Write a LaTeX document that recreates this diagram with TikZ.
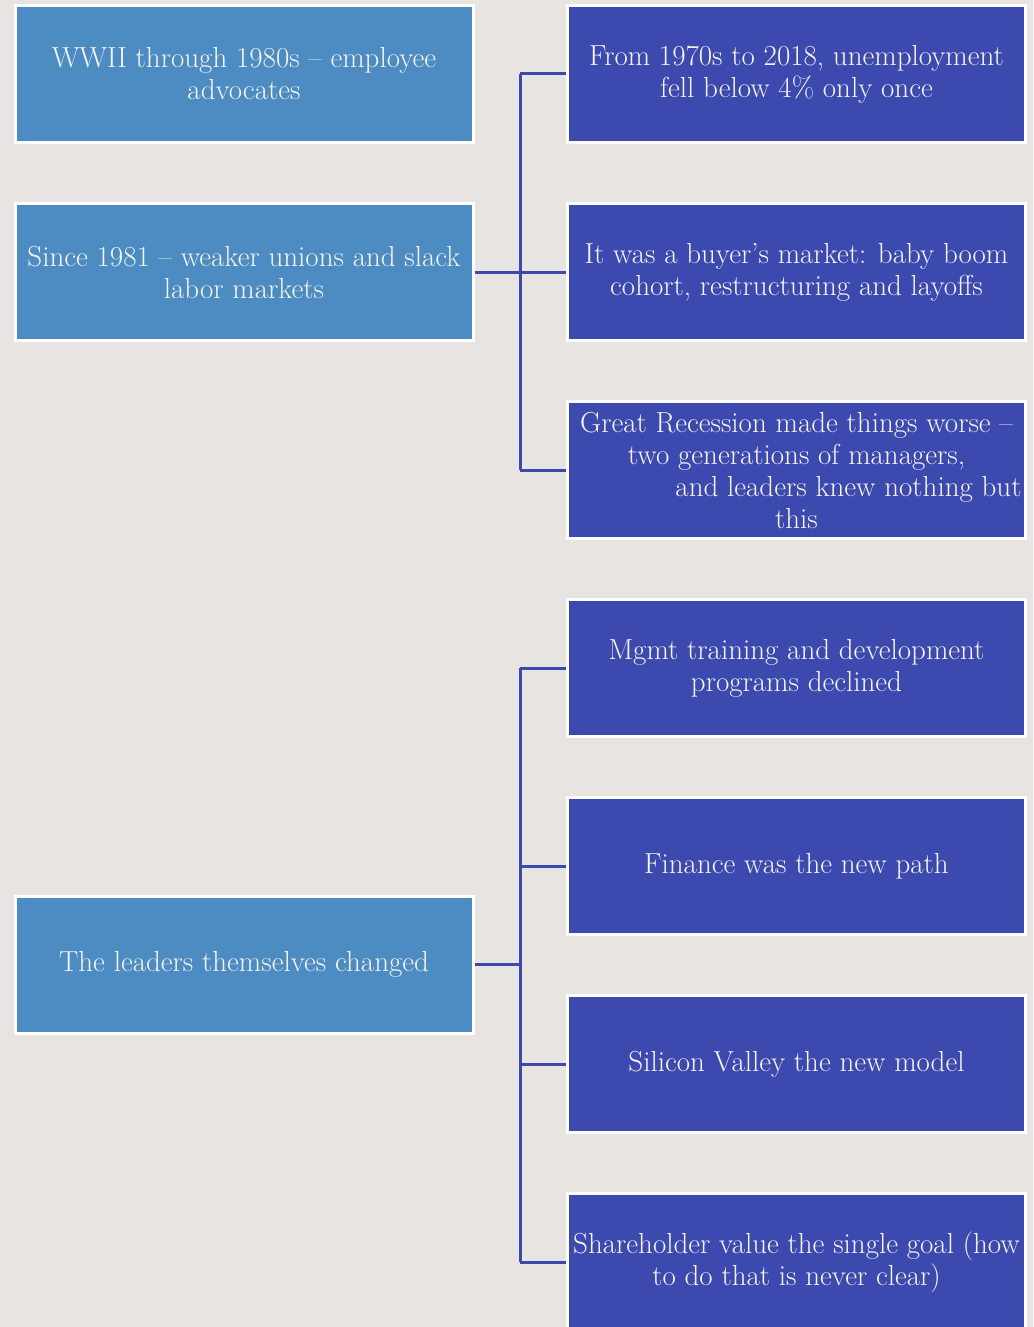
\documentclass[tikz,border=0pt]{standalone}
\usepackage{fontspec}
\usepackage{xcolor}
\usetikzlibrary{positioning}
\definecolor{bgcol}{HTML}{E8E4E1}
\definecolor{leftblue}{HTML}{4C8CC3}
\definecolor{rightblue}{HTML}{3C4AB0}
\definecolor{boxtext}{HTML}{F6F4EE}

\begin{document}
\begin{tikzpicture}[x=1pt,y=-1pt,
  topic/.style={draw=white,line width=3pt,fill=leftblue,text=boxtext,minimum width=458pt,minimum height=137pt,align=center,inner sep=1pt,font=\fontsize{29}{32}\selectfont},
  detail/.style={topic,fill=rightblue},
  link/.style={draw=rightblue,line width=3pt}]
\clip (0,0) rectangle (1033,1327);
\fill[bgcol] (0,0) rectangle (1033,1327);
% left column
\node[topic] (wwii) at (244,74) {WWII through 1980s -- employee\\advocates};
\node[topic] (since) at (244,272) {Since 1981 -- weaker unions and slack\\labor markets};
\node[topic] (leaders) at (244,964.5) {The leaders themselves changed};
% right column, first group
\node[detail] (unemp) at (796.5,74) {From 1970s to 2018, unemployment\\fell below 4\% only once};
\node[detail] (buyer) at (796.5,272) {It was a buyer’s market: baby boom\\cohort, restructuring and layoffs};
\node[detail] (recess) at (796.5,470) {Great Recession made things worse --\\two generations of managers,\\\hspace*{104pt}and leaders knew nothing but\\this};
% right column, second group
\node[detail] (mgmt) at (796.5,668) {Mgmt training and development\\programs declined};
\node[detail] (finance) at (796.5,866) {Finance was the new path};
\node[detail] (valley) at (796.5,1064) {Silicon Valley the new model};
\node[detail] (share) at (796.5,1262) {Shareholder value the single goal (how\\to do that is never clear)};
% connectors
\coordinate (spineA) at (520,272);
\coordinate (spineB) at (520,964.5);
\draw[link] (since.east) -- (spineA);
\draw[link] (spineA |- unemp.west) -- (spineA |- recess.west);
\foreach \n in {unemp,buyer,recess} \draw[link] (spineA |- \n.west) -- (\n.west);
\draw[link] (leaders.east) -- (spineB);
\draw[link] (spineB |- mgmt.west) -- (spineB |- share.west);
\foreach \n in {mgmt,finance,valley,share} \draw[link] (spineB |- \n.west) -- (\n.west);
\end{tikzpicture}
\end{document}
